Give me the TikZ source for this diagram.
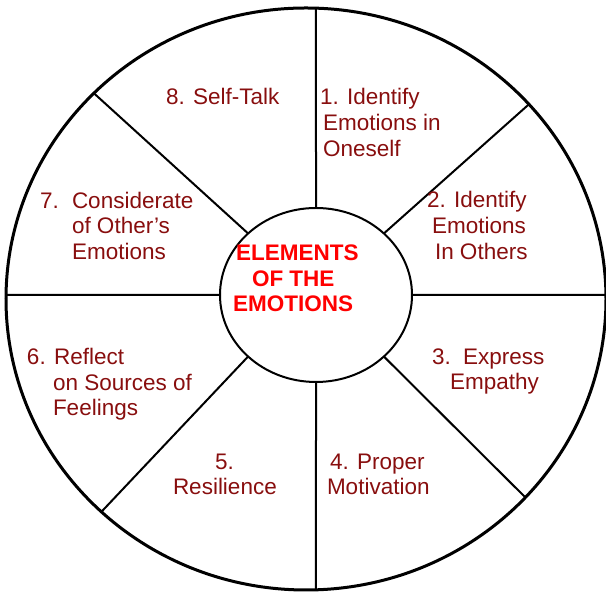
\documentclass[tikz,border=0pt]{standalone}
\usepackage{fontspec}
\setmainfont{Liberation Sans}
\usetikzlibrary{calc}
\definecolor{lbl}{RGB}{136,14,14}
\definecolor{ctr}{RGB}{255,0,0}
\tikzset{
  lab/.style={anchor=base west,inner sep=0pt,outer sep=0pt,text=lbl,font=\fontsize{22.5}{26}\selectfont},
  ctrlab/.style={anchor=base west,inner sep=0pt,outer sep=0pt,text=ctr,font=\fontsize{22.5}{26}\selectfont\bfseries},
  rim/.style={line width=3pt,draw=black},
  spoke/.style={line width=2pt,draw=black},
  hub/.style={line width=2pt,draw=black,fill=white}
}
\begin{document}
\begin{tikzpicture}[x=1pt,y=1pt]
\useasboundingbox (0,0) rectangle (606,593);
\coordinate (O) at (306,294);
\coordinate (I) at (316,298);
% spoke end points
\coordinate (oT) at ($(O)+(88.09:300 and 291)$);
\coordinate (oB) at ($(O)+(271.91:300 and 291)$);
\coordinate (oR) at ($(O)+(0.8:300 and 291)$);
\coordinate (oL) at ($(O)+(179.2:300 and 291)$);
\coordinate (oUR) at ($(O)+(42:300 and 291)$);
\coordinate (oUL) at ($(O)+(135:300 and 291)$);
\coordinate (oLL) at ($(O)+(227:300 and 291)$);
\coordinate (oLR) at ($(O)+(317:300 and 291)$);
\coordinate (iT) at ($(I)+(90:96 and 87)$);
\coordinate (iB) at ($(I)+(270:96 and 87)$);
\coordinate (iR) at ($(I)+(0:96 and 87)$);
\coordinate (iL) at ($(I)+(180:96 and 87)$);
\coordinate (iUR) at ($(I)+(45:96 and 87)$);
\coordinate (iUL) at ($(I)+(135:96 and 87)$);
\coordinate (iLL) at ($(I)+(225:96 and 87)$);
\coordinate (iLR) at ($(I)+(315:96 and 87)$);
\draw[spoke] (iT) -- (oT);
\draw[spoke] (iB) -- (oB);
\draw[spoke] (iR) -- (oR);
\draw[spoke] (iL) -- (oL);
\draw[spoke] (iUR) -- (oUR);
\draw[spoke] (iUL) -- (oUL);
\draw[spoke] (iLL) -- (oLL);
\draw[spoke] (iLR) -- (oLR);
\draw[rim] (O) ellipse [x radius=300, y radius=291];
\draw[hub] (I) ellipse [x radius=96, y radius=87];
% labels
\node[lab] (t8a) at (166,488) {8. Self-Talk};
\node[lab] (t1a) at (320,488) {1. Identify};
\node[lab] (t1b) at (323,462) {Emotions in};
\node[lab] (t1c) at (323,436) {Oneself};
\node[lab] (t2a) at (427,385) {2. Identify};
\node[lab] (t2b) at (432,359) {Emotions};
\node[lab] (t2c) at (435,333) {In Others};
\node[lab] (t7n) at (40,384) {7.};
\node[lab] (t7a) at (72,384) {Considerate};
\node[lab] (t7b) at (72,359) {of Other’s};
\node[lab] (t7c) at (72,333) {Emotions};
\node[lab] (t6a) at (27,228) {6. Reflect};
\node[lab] (t6b) at (53,202) {on Sources of};
\node[lab] (t6c) at (53,177) {Feelings};
\node[lab] (t3n) at (432,228) {3.};
\node[lab] (t3a) at (463,228) {Express};
\node[lab] (t3b) at (450,203) {Empathy};
\node[lab] (t5n) at (215,123) {5.};
\node[lab] (t5a) at (173,98) {Resilience};
\node[lab] (t4a) at (330,123) {4. Proper};
\node[lab] (t4b) at (327,98) {Motivation};
\node[ctrlab] (c1) at (236,332) {ELEMENTS};
\node[ctrlab] (c2) at (252,306) {OF THE};
\node[ctrlab] (c3) at (233,281) {EMOTIONS};
\end{tikzpicture}
\end{document}
